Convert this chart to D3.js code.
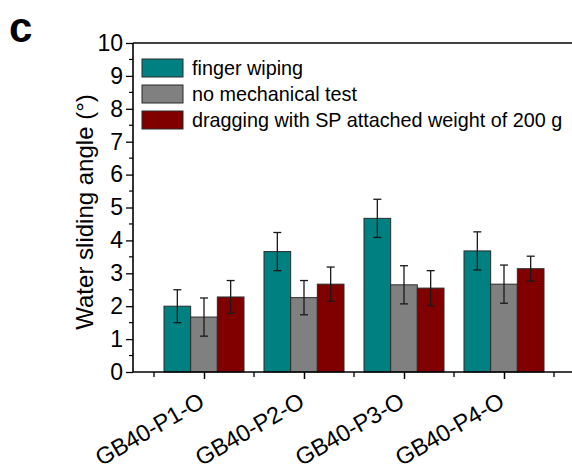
<!DOCTYPE html>
<html>
<head>
<meta charset="utf-8">
<script src="https://cdn.jsdelivr.net/npm/d3@7"></script>
<style>
  html, body { margin: 0; padding: 0; background: #fff; }
  svg { display: block; font-family: "Liberation Sans", Arial, sans-serif; }
</style>
</head>
<body>
<div id="chart"></div>
<script>
// 數據
const categories = ['GB40-P1-O', 'GB40-P2-O', 'GB40-P3-O', 'GB40-P4-O'];
const seriesNames = ['finger wiping', 'no mechanical test', 'dragging with SP attached weight of 200 g'];
const fingerWiping = [2.0, 3.66, 4.67, 3.68];
const fingerWipingErr = [0.5, 0.58, 0.58, 0.58];
const noMechanical = [1.67, 2.26, 2.65, 2.67];
const noMechanicalErr = [0.58, 0.52, 0.58, 0.58];
const dragging = [2.28, 2.67, 2.55, 3.14];
const draggingErr = [0.5, 0.52, 0.53, 0.38];
const yTicks = [0, 1, 2, 3, 4, 5, 6, 7, 8, 9, 10];
const seriesColors = ['#008080', '#808080', '#800000'];

const seriesValues = [fingerWiping, noMechanical, dragging];
const seriesErrors = [fingerWipingErr, noMechanicalErr, draggingErr];

const width = 572, height = 470;

const svg = d3.select('#chart')
    .append('svg')
    .attr('width', width)
    .attr('height', height);

// 比例尺：組中心 1..4
const x = d3.scaleLinear().domain([0.29, 4.71]).range([133, 575]);
const y = d3.scaleLinear().domain([0, 10]).range([372, 43]);
const inner = d3.scaleBand().domain(d3.range(seriesNames.length)).range([-40, 40]).padding(0);

// 柱子
const rows = [];
categories.forEach((c, i) => {
    seriesNames.forEach((s, j) => {
        rows.push({ cat: i + 1, s: j, v: seriesValues[j][i], e: seriesErrors[j][i] });
    });
});

const g = svg.append('g');
g.selectAll('rect.bar')
    .data(rows)
    .enter()
    .append('rect')
    .attr('class', 'bar')
    .attr('x', d => x(d.cat) + inner(d.s))
    .attr('y', d => y(d.v))
    .attr('width', inner.bandwidth())
    .attr('height', d => y(0) - y(d.v))
    .attr('fill', d => seriesColors[d.s])
    .attr('stroke', '#2a2a2a')
    .attr('stroke-width', 1);

// 誤差線
const eb = g.selectAll('g.err')
    .data(rows)
    .enter()
    .append('g')
    .attr('class', 'err')
    .attr('stroke', '#1a1a1a')
    .attr('stroke-width', 1.3);
const cx = d => x(d.cat) + inner(d.s) + inner.bandwidth() / 2;
eb.append('line')
    .attr('x1', cx).attr('x2', cx)
    .attr('y1', d => y(d.v + d.e)).attr('y2', d => y(d.v - d.e));
[1, -1].forEach(k => {
    eb.append('line')
        .attr('x1', d => cx(d) - 4).attr('x2', d => cx(d) + 4)
        .attr('y1', d => y(d.v + k * d.e)).attr('y2', d => y(d.v + k * d.e));
});

// Y 軸
const yAxis = d3.axisLeft(y).tickValues(yTicks).tickSize(7).tickPadding(3).tickFormat(d3.format('d'));
const yG = svg.append('g').attr('transform', 'translate(133,0)').call(yAxis);
yG.select('.domain').remove();
yG.selectAll('.tick line').attr('stroke', '#000').attr('stroke-width', 1.3);
yG.selectAll('.tick text').attr('font-size', 23).attr('fill', '#000')
    .attr('font-family', '"Liberation Sans", Arial, sans-serif');
// Y 次刻度
svg.append('g').selectAll('line')
    .data(d3.range(0.5, 10, 1))
    .enter().append('line')
    .attr('x1', 129).attr('x2', 133)
    .attr('y1', d => y(d)).attr('y2', d => y(d))
    .attr('stroke', '#000').attr('stroke-width', 1.2);

// X 軸
const xAxis = d3.axisBottom(x).tickValues([1, 2, 3, 4]).tickSize(7).tickFormat('');
const xG = svg.append('g').attr('transform', 'translate(0,372)').call(xAxis);
xG.select('.domain').remove();
xG.selectAll('.tick line').attr('stroke', '#000').attr('stroke-width', 1.5);
svg.append('g').selectAll('line')
    .data(d3.range(0.5, 5, 1))
    .enter().append('line')
    .attr('x1', d => x(d)).attr('x2', d => x(d))
    .attr('y1', 372).attr('y2', 377)
    .attr('stroke', '#000').attr('stroke-width', 1.3);

// X 標籤 (旋轉)
svg.append('g').selectAll('text')
    .data(categories)
    .enter().append('text')
    .attr('transform', (d, i) => `translate(${x(i + 1) + 2},${406}) rotate(-30)`)
    .attr('text-anchor', 'end')
    .attr('font-size', 23.5)
    .attr('letter-spacing', -0.2)
    .attr('fill', '#000')
    .text(d => d);

// 框線
svg.append('line').attr('x1', 133).attr('x2', width).attr('y1', 372).attr('y2', 372)
    .attr('stroke', '#000').attr('stroke-width', 1.6);
svg.append('line').attr('x1', 133).attr('x2', 133).attr('y1', 43).attr('y2', 372)
    .attr('stroke', '#000').attr('stroke-width', 1.6);
svg.append('line').attr('x1', 133).attr('x2', width).attr('y1', 43).attr('y2', 43)
    .attr('stroke', '#000').attr('stroke-width', 1.6);

// Y 軸標題
svg.append('text')
    .attr('transform', 'translate(93,212) rotate(-90)')
    .attr('text-anchor', 'middle')
    .attr('font-size', 24)
    .attr('fill', '#000')
    .text('Water sliding angle (°)');

// 圖例
const legend = svg.append('g').selectAll('g')
    .data(seriesNames)
    .enter().append('g')
    .attr('transform', (d, i) => `translate(142,${59 + i * 26})`);
legend.append('rect')
    .attr('width', 41).attr('height', 18)
    .attr('fill', (d, i) => seriesColors[i])
    .attr('stroke', '#2a2a2a').attr('stroke-width', 1);
legend.append('text')
    .attr('x', 50).attr('y', 16)
    .attr('font-size', 19.8)
    .attr('fill', '#000')
    .text(d => d);

// 面板字母
svg.append('text')
    .attr('x', 9).attr('y', 42)
    .attr('font-size', 42)
    .attr('font-weight', 'bold')
    .attr('fill', '#000')
    .text('c');
</script>
</body>
</html>
